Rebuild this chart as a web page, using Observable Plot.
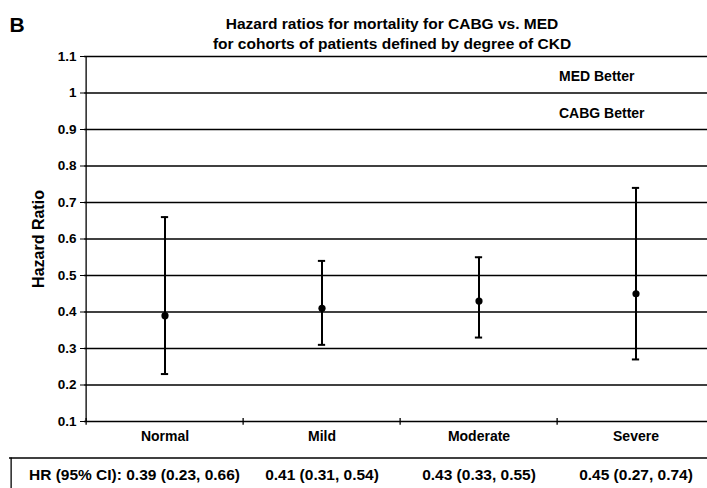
<!DOCTYPE html>
<html>
<head>
<meta charset="utf-8">
<script src="https://cdn.jsdelivr.net/npm/d3@7"></script>
<script src="https://cdn.jsdelivr.net/npm/@observablehq/plot@0.6"></script>
<style>
  html, body { margin: 0; padding: 0; background: #fff; }
  #chart svg { display: block; }
</style>
</head>
<body>
<div id="chart"></div>
<script>
// ---- data ----
const categories = ["Normal", "Mild", "Moderate", "Severe"];
const hrValues = [0.39, 0.41, 0.43, 0.45];
const ciLower = [0.23, 0.31, 0.33, 0.27];
const ciUpper = [0.66, 0.54, 0.55, 0.74];
const yTickValues = [0.1, 0.2, 0.3, 0.4, 0.5, 0.6, 0.7, 0.8, 0.9, 1.0, 1.1];
const yTickLabels = ["0.1", "0.2", "0.3", "0.4", "0.5", "0.6", "0.7", "0.8", "0.9", "1", "1.1"];
const titleLines = ["Hazard ratios for mortality for CABG vs. MED", "for cohorts of patients defined by degree of CKD"];
const panelLetter = "B";
const yLabel = "Hazard Ratio";
const regionLabels = ["MED Better", "CABG Better"];
const regionLabelValues = [1.045, 0.945];
const hrPrefix = "HR (95% CI): ";

const rows = categories.map((c, i) => ({cat: c, hr: hrValues[i], lo: ciLower[i], hi: ciUpper[i]}));
const fmt = d3.format(".2f");
const hrText = d => `${fmt(d.hr)} (${fmt(d.lo)}, ${fmt(d.hi)})`;

const font = "'Liberation Sans', Arial, Helvetica, sans-serif";
const half = (715 - 84) / 8;

const chart = Plot.plot({
  width: 707,
  height: 488,
  marginLeft: 84,
  marginRight: 0,
  marginTop: 56,
  marginBottom: 67,
  style: {fontFamily: font, background: "#fff", color: "#000"},
  x: {type: "band", domain: categories, range: [84, 715], padding: 0},
  y: {domain: [0.1, 1.1]},
  marks: [
    // horizontal gridlines (incl. x axis line at 0.1)
    Plot.ruleY(yTickValues, {stroke: "#000", strokeWidth: 1.3}),
    // y axis line
    Plot.ruleX([categories[0]], {dx: -half, y1: 0.1, y2: 1.1, stroke: "#000", strokeWidth: 1.3}),
    // x axis boundary ticks
    Plot.ruleX(categories, {x: d => d, dx: -half, y1: 0.09, y2: 0.108, stroke: "#000", strokeWidth: 1.3}),
    Plot.axisY({
      ticks: yTickValues,
      tickFormat: (d, i) => yTickLabels[i],
      tickSize: 4,
      tickPadding: 4,
      fontSize: 13.5,
      fontWeight: "bold",
      label: null
    }),
    Plot.axisX({tickSize: 0, tickPadding: 10, fontSize: 14, fontWeight: "bold", label: null}),
    // error bars
    Plot.ruleX(rows, {x: "cat", y1: "lo", y2: "hi", stroke: "#000", strokeWidth: 2}),
    Plot.tickY(rows, {x: "cat", y: "lo", stroke: "#000", strokeWidth: 2, insetLeft: half - 4, insetRight: half - 4}),
    Plot.tickY(rows, {x: "cat", y: "hi", stroke: "#000", strokeWidth: 2, insetLeft: half - 4, insetRight: half - 4}),
    Plot.dot(rows, {x: "cat", y: "hr", r: 3.6, fill: "#000", stroke: null}),
    // region annotations
    Plot.text(regionLabels, {x: () => categories[3], y: (d, i) => regionLabelValues[i], text: d => d, dx: -77, textAnchor: "start", fontSize: 14, fontWeight: "bold"}),
    // title
    Plot.text([titleLines[0]], {frameAnchor: "top", dx: -4, dy: -39, fontSize: 15.5, fontWeight: "bold"}),
    Plot.text([titleLines[1]], {frameAnchor: "top", dx: -4, dy: -19, fontSize: 15.5, fontWeight: "bold"}),
    Plot.text([panelLetter], {frameAnchor: "top-left", dx: -75, dy: -39, textAnchor: "start", fontSize: 21, fontWeight: "bold"}),
    // y label
    Plot.text([yLabel], {frameAnchor: "left", dx: -46, rotate: -90, textAnchor: "middle", fontSize: 16, fontWeight: "bold"}),
    // HR row box
    Plot.ruleY([0], {insetLeft: -75, stroke: "#000", strokeWidth: 1.3}),
    Plot.ruleX([categories[0]], {dx: 9 - (84 + half), y1: 0, y2: -0.1, stroke: "#000", strokeWidth: 1.3}),
    // HR row texts
    Plot.text([rows[0]], {x: "cat", y: () => -0.046, text: d => hrPrefix + hrText(d), textAnchor: "end", dx: 75, fontSize: 15.5, fontWeight: "bold"}),
    Plot.text(rows.slice(1), {x: "cat", y: () => -0.046, text: hrText, fontSize: 15.5, fontWeight: "bold"})
  ]
});
document.getElementById("chart").appendChild(chart);
</script>
</body>
</html>
